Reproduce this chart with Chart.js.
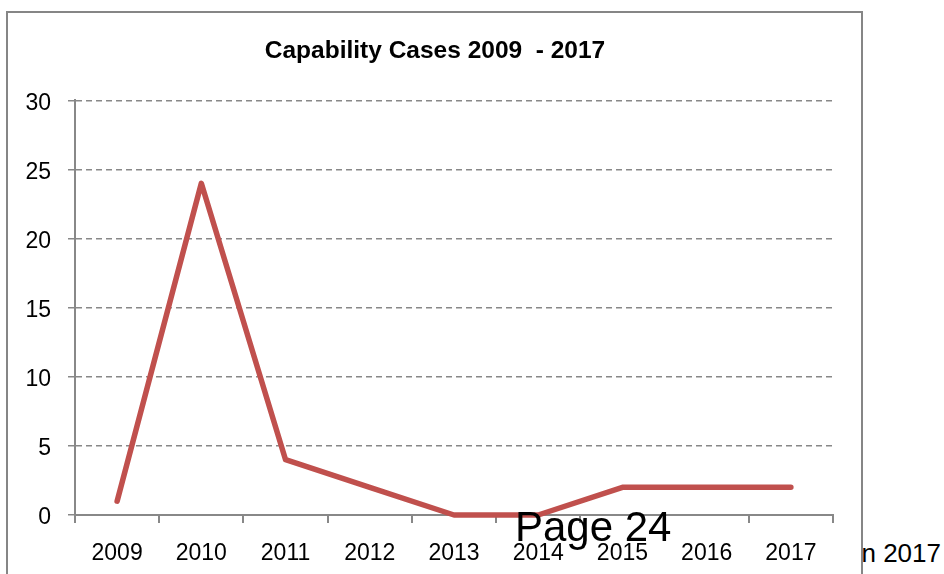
<!DOCTYPE html>
<html>
<head>
<meta charset="utf-8">
<script src="https://cdn.jsdelivr.net/npm/chart.js@4/dist/chart.umd.min.js"></script>
<style>
  html, body { margin: 0; padding: 0; background: #fff; width: 944px; height: 574px; overflow: hidden; }
  #behind { position: absolute; right: 3px; top: 540px; font: 26px "Liberation Sans", Arial, sans-serif; line-height: 1; color: #000; z-index: 0; white-space: nowrap; }
  #frame { position: absolute; left: 6px; top: 11px; width: 857px; height: 620px; box-sizing: border-box; border: 2px solid #868686; background: #fff; z-index: 1; }
  #chart { position: absolute; left: 8px; top: 13px; z-index: 2; }
  #page { position: absolute; left: 515px; top: 506px; font: 42px "Liberation Sans", Arial, sans-serif; line-height: 1; color: #000; z-index: 3; white-space: nowrap; }
</style>
</head>
<body>
<div id="behind">in 2017</div>
<div id="frame"></div>
<canvas id="chart" width="854" height="561"></canvas>
<div id="page">Page 24</div>
<script>
const years = ['2009', '2010', '2011', '2012', '2013', '2014', '2015', '2016', '2017'];
const cases = [1, 24, 4, 2, 0, 0, 2, 2, 2];
const yTicks = [0, 5, 10, 15, 20, 25, 30];

const font = '"Liberation Sans", Arial, sans-serif';

// centre the title on the whole frame, not only the left part
const centerTitle = {
    id: 'centerTitle',
    afterLayout(chart) {
        if (chart.titleBlock) {
            chart.titleBlock.left = 29;
            chart.titleBlock.right = chart.width - 29;
        }
    }
};

const ctx = document.getElementById('chart').getContext('2d');
const myChart = new Chart(ctx, {
    type: 'line',
    data: {
        labels: years,
        datasets: [{
            label: 'Capability Cases',
            data: cases,
            borderColor: '#C0504D',
            backgroundColor: '#C0504D',
            borderWidth: 5.5,
            borderCapStyle: 'round',
            borderJoinStyle: 'round',
            pointRadius: 0,
            tension: 0,
            clip: false
        }]
    },
    options: {
        responsive: false,
        animation: false,
        layout: { padding: { left: 0, right: 29, top: 0, bottom: 0 } },
        plugins: {
            legend: { display: false },
            tooltip: { enabled: false },
            title: {
                display: true,
                text: 'Capability Cases 2009  - 2017',
                color: '#000',
                font: { family: font, size: 24.5, weight: 'bold', lineHeight: 1.2 },
                padding: { top: 24, bottom: 34 }
            }
        },
        scales: {
            x: {
                offset: true,
                grid: {
                    offset: true,
                    drawOnChartArea: false,
                    color: '#888',
                    lineWidth: 2,
                    tickLength: 8
                },
                border: { color: '#888', width: 2 },
                ticks: { color: '#000', font: { family: font, size: 23 }, padding: 17, maxRotation: 0 },
                afterFit: function (scale) { scale.height = 59; }
            },
            y: {
                min: 0,
                max: 30,
                afterBuildTicks: function (scale) { scale.ticks = yTicks.map(v => ({ value: v })); },
                grid: {
                    color: '#888',
                    lineWidth: 1.5,
                    tickBorderDash: [6, 4],
                    tickLength: 7
                },
                border: { color: '#888', width: 2, dash: [6, 4] },
                ticks: { color: '#000', font: { family: font, size: 23 }, padding: 17, labelOffset: 3 },
                afterFit: function (scale) { scale.width = 67; }
            }
        }
    },
    plugins: [centerTitle]
});
</script>
</body>
</html>
